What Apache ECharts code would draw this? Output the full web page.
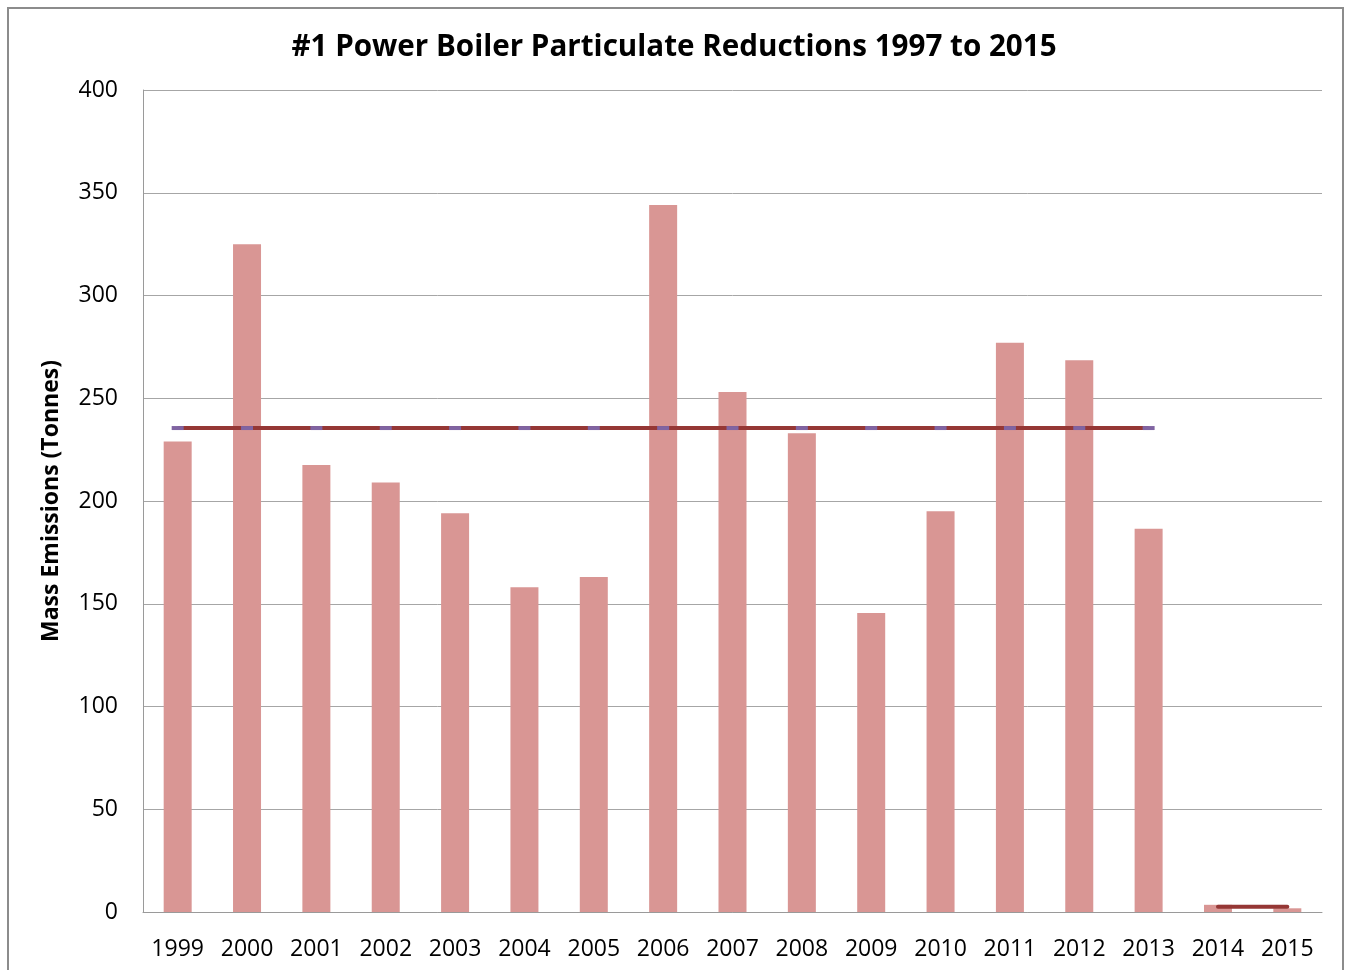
<!DOCTYPE html>
<html>
<head>
<meta charset="utf-8">
<script src="https://cdn.jsdelivr.net/npm/echarts@6/dist/echarts.min.js"></script>
<style>
  html, body { margin: 0; padding: 0; background: #fff; }
  #frame { position: absolute; left: 7px; top: 7px; width: 1337px; height: 975px; border: 2px solid #8c8c8c; box-sizing: border-box; }
  #chart { position: absolute; left: 0; top: 0; width: 1348px; height: 970px; }
</style>
</head>
<body>
<div id="frame"></div>
<div id="chart"></div>
<script>
const years = ['1999', '2000', '2001', '2002', '2003', '2004', '2005', '2006', '2007', '2008',
  '2009', '2010', '2011', '2012', '2013', '2014', '2015'];
const emissions = [229, 325, 217.5, 209, 194, 158, 163, 344, 253, 233, 145.5, 195, 277, 268.5, 186.5, 3.5, 1.8];
const avgBefore = [235.5, 235.5, 235.5, 235.5, 235.5, 235.5, 235.5, 235.5, 235.5, 235.5,
  235.5, 235.5, 235.5, 235.5, 235.5, null, null];
const avgAfter = [null, null, null, null, null, null, null, null, null, null,
  null, null, null, null, null, 2.6, 2.6];

const font = '"Open Sans", "Liberation Sans", sans-serif';
const chart = echarts.init(document.getElementById('chart'));
chart.setOption({
  animation: false,
  title: {
    text: '#1 Power Boiler Particulate Reductions 1997 to 2015',
    left: 'center',
    top: 28,
    textStyle: { fontFamily: font, fontSize: 29.6, fontWeight: 'bold', color: '#000' }
  },
  grid: { left: 143, right: 26, top: 90, bottom: 58 },
  xAxis: {
    type: 'category',
    data: years,
    axisLine: { lineStyle: { color: '#9a9a9a', width: 1 } },
    axisTick: { show: false },
    axisLabel: { fontFamily: font, fontSize: 23, color: '#000', margin: 26, interval: 0 }
  },
  yAxis: {
    type: 'value',
    min: 0,
    max: 400,
    interval: 50,
    name: 'Mass Emissions (Tonnes)',
    nameLocation: 'middle',
    nameGap: 80,
    nameTextStyle: { fontFamily: font, fontSize: 23, fontWeight: 'bold', color: '#000' },
    axisLine: { show: true, lineStyle: { color: '#9a9a9a' } },
    axisTick: { show: false },
    axisLabel: { fontFamily: font, fontSize: 23, color: '#000', margin: 25 },
    splitLine: { lineStyle: { color: '#a6a6a6', width: 1 } }
  },
  series: [
    {
      type: 'bar',
      data: emissions,
      barWidth: 28,
      itemStyle: { color: '#d99694' }
    },
    {
      type: 'line',
      data: avgBefore,
      symbol: 'rect',
      symbolSize: [12, 4],
      itemStyle: { color: '#8064a2' },
      lineStyle: { color: '#953735', width: 4 },
      z: 3
    },
    {
      type: 'line',
      data: avgAfter,
      symbol: 'none',
      lineStyle: { color: '#953735', width: 4, cap: 'round' },
      z: 3
    }
  ]
});
</script>
</body>
</html>
